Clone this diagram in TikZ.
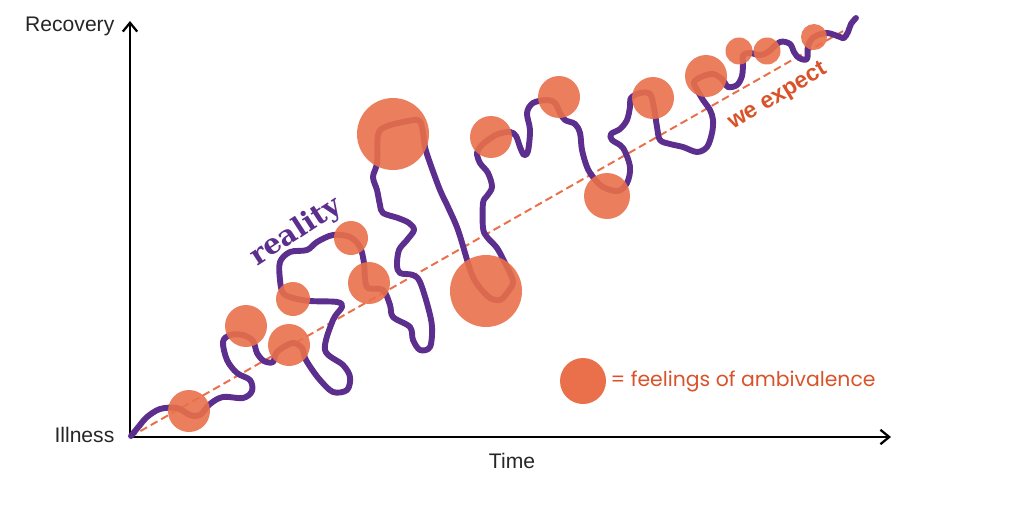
\documentclass[tikz,border=0pt]{standalone}
\usepackage{fontspec}
\setmainfont{Liberation Sans}
\newfontfamily\legendFont{Poppins}
\newfontfamily\realityFont{DejaVu Serif}
\definecolor{feelingColor}{HTML}{E9704A}
\definecolor{expectColor}{HTML}{D9532A}
\definecolor{realityColor}{HTML}{5C2E8E}
\usetikzlibrary{arrows.meta, positioning}
\tikzset{
    axisPath/.style = {-{Straight Barb[length=2.2mm, width=3.6mm, line width=1.6pt]}, line width=1.8pt, draw=black},
    axisLabel/.style = {font=\fontsize{15}{18}\selectfont, text=black!85, inner sep=1pt},
    expectPath/.style = {draw=feelingColor, line width=1.4pt, dash pattern=on 5.5pt off 3pt},
    realityPath/.style = {draw=realityColor, line width=4.2pt, line cap=round, line join=round},
    feelingFill/.style = {fill=feelingColor, fill opacity=0.9},
    legendLabel/.style = {font=\legendFont\fontsize{14.5}{17}\selectfont, text=expectColor, inner sep=1pt}
}
\begin{document}
\begin{tikzpicture}[x=0.025cm, y=-0.025cm]
    \useasboundingbox (0,0) rectangle (1024,512);
    % axes
    \coordinate(origin) at (130,437);
    \coordinate(yTop) at (130,21);
    \coordinate(xEnd) at (891,437);
    \path[axisPath] (origin) to (yTop);
    \path[axisPath] (origin) to (xEnd);
    \node(recoveryLabel)[axisLabel, anchor=east] at (116,26){Recovery};
    \node(illnessLabel)[axisLabel, anchor=east] at (116,435){Illness};
    \node(timeLabel)[axisLabel] at (512,461){Time};
    % expected path
    \coordinate(expectEnd) at (845,30);
    \path[expectPath] (origin) to (expectEnd);
    \node(expectLabel)[font=\bfseries\fontsize{16.5}{19}\selectfont, text=expectColor, rotate=31] at (778,97){we expect};
    % real path
    \draw[realityPath] plot[smooth, tension=0.55] coordinates {
        (131,436) (140,425) (147,417) (160,409) (177,408) (190,415) (200,415) (210,404)
        (223,397) (243,398) (252,391) (250,380) (237,373) (227,360) (223,342) (230,335)
        (243,335) (253,341) (257,353) (264,361) (273,362) (277,352) (292,343) (302,348)
        (305,358) (311,368) (320,380) (333,392) (347,390) (350,377) (343,365) (325,350)
        (333,320) (342,307) (337,302) (310,301) (293,298) (283,293) (280,280) (280,262)
        (290,252) (307,250) (317,242) (333,235) (350,237) (360,247) (364,263) (365,278)
        (368,288) (383,290) (390,305) (393,317) (410,327) (413,340) (420,350) (430,347)
        (432,327) (428,307) (420,282) (413,275) (400,273) (397,265) (399,250) (407,240)
        (414,230) (409,223) (398,218) (383,213) (380,205) (377,190) (373,177) (377,163)
        (378,135) (385,127) (403,122) (418,120) (422,127) (425,147) (430,163) (440,190)
        (448,207) (458,230) (468,263) (473,277) (480,288) (490,298) (500,300) (507,293)
        (513,283) (510,273) (505,263) (497,248) (487,237) (483,228) (483,203) (487,196)
        (492,187) (488,173) (480,163) (477,153) (481,146) (488,140) (498,134) (510,132)
        (516,136) (520,147) (524,155) (528,151) (530,130) (527,113) (533,103) (547,100)
        (555,103) (560,113) (565,120) (575,124) (580,133) (582,150) (587,167) (593,177)
        (603,187) (618,191) (627,183) (630,167) (623,148) (612,140) (611,134) (620,129)
        (627,120) (630,107) (631,98) (640,93) (650,94) (654,108) (657,127) (660,140)
        (670,144) (683,147) (697,152) (707,147) (712,133) (713,120) (710,110) (703,100)
        (696,88) (694,82) (701,77) (713,74) (723,80) (728,87) (737,85) (742,76)
        (743,63) (743,55) (750,53) (760,55) (768,52) (780,42) (790,44) (794,52)
        (799,58) (807,59) (808,46) (814,37) (827,33) (840,37) (844,38) (848,32)
        (851,24) (856,18)};
    \node(realityLabel)[font=\realityFont\bfseries\fontsize{20}{23}\selectfont, text=realityColor, rotate=33] at (296,232){reality};
    % feelings of ambivalence
    \foreach \cx/\cy/\r in {189/411/21, 246/326/21, 289/345/21, 293/299/17, 351/238/17,
        369/283/21, 393/134/36, 486/291/36, 491/137/21, 559/97/21, 607/196/23,
        653/98/21, 706/76/21, 739/51/13.5, 767/51/13.5, 814/37/13}
        \fill[feelingFill] (\cx,\cy) circle[radius=\r*0.025cm];
    % legend
    \coordinate(legendDot) at (583,381);
    \fill[feelingFill, fill opacity=1] (legendDot) circle[radius=23*0.025cm];
    \node(legendText)[legendLabel, anchor=west] at (609,381){= feelings of ambivalence};
\end{tikzpicture}
\end{document}
